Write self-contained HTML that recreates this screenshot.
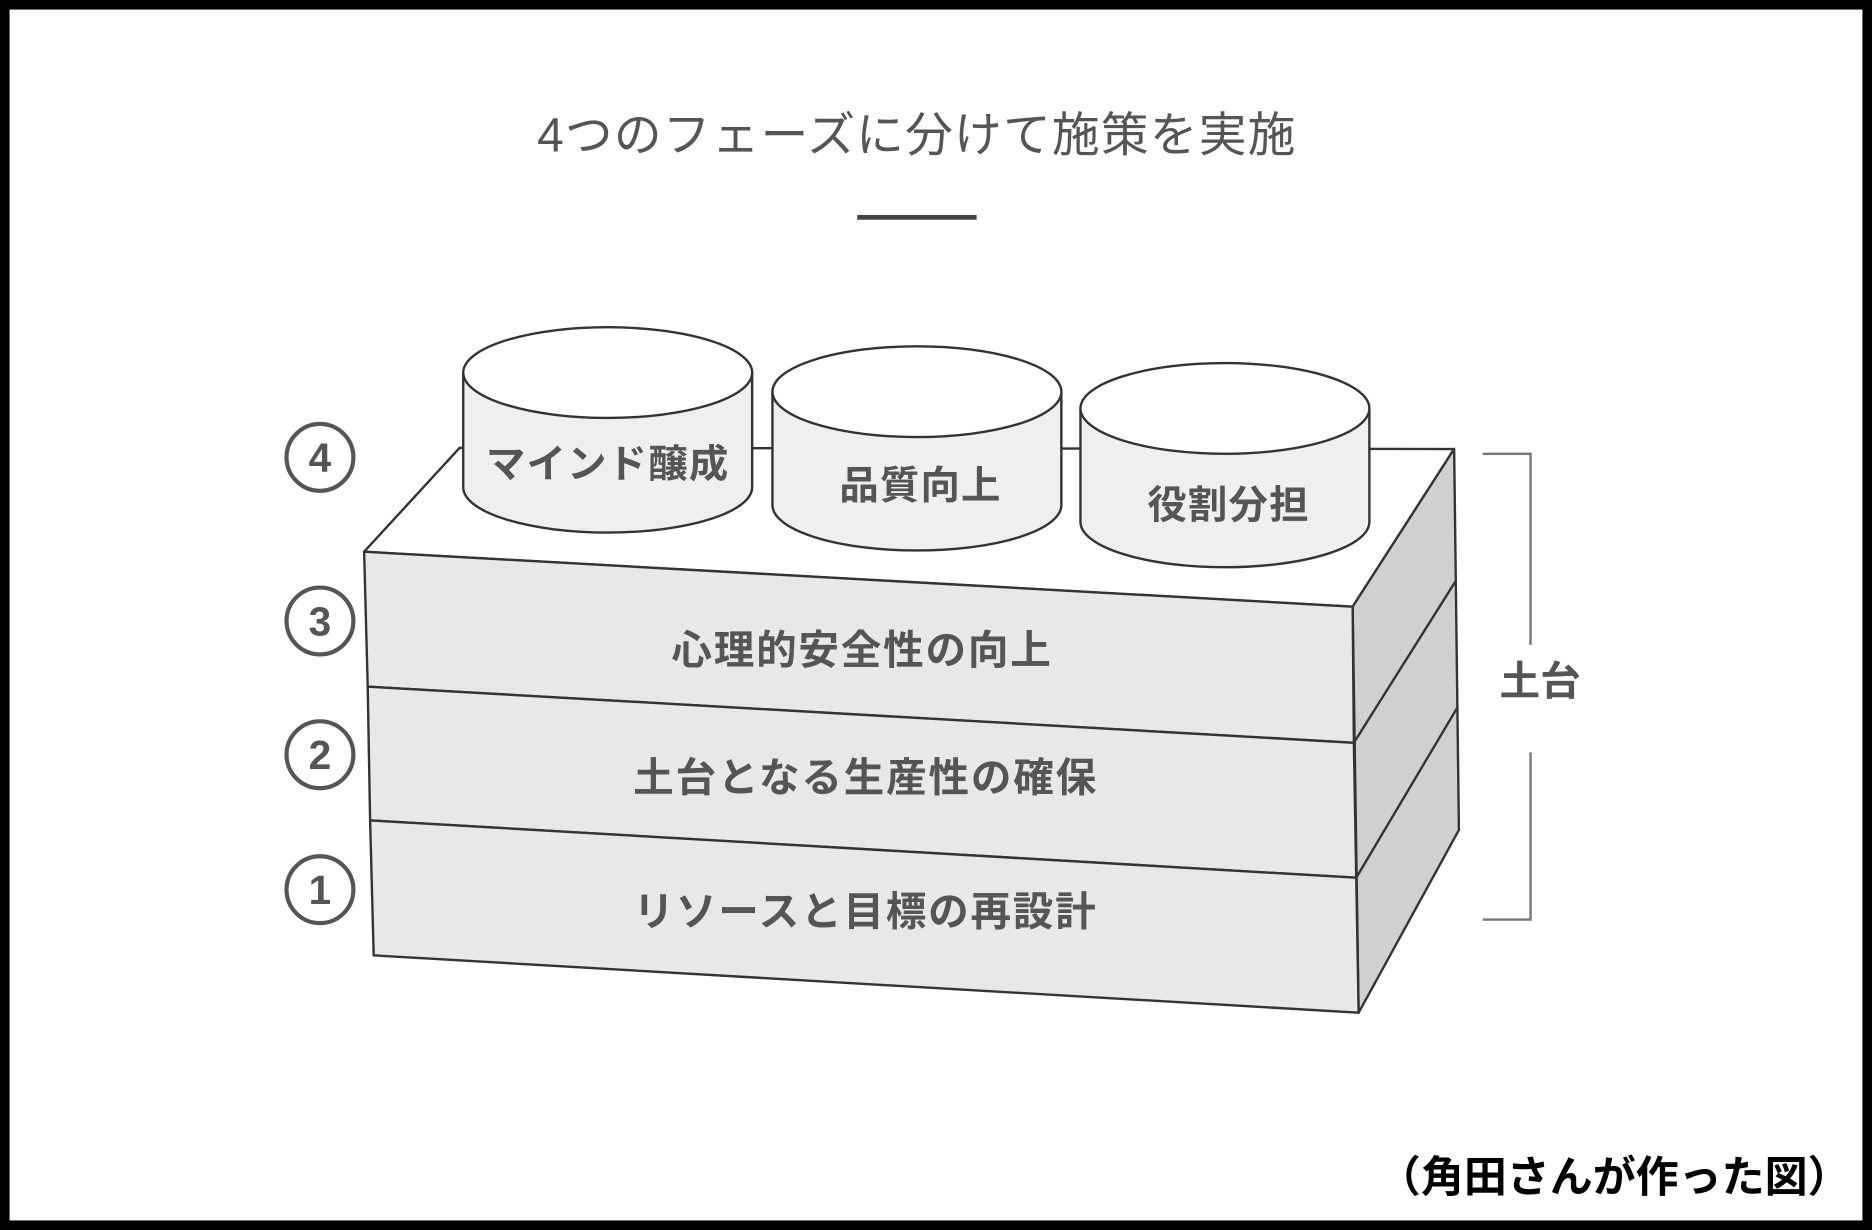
<!DOCTYPE html>
<html><head><meta charset="utf-8"><style>html,body{margin:0;padding:0;background:#fff}svg{display:block}</style></head>
<body>
<svg width="1872" height="1230" viewBox="0 0 1568 1030" preserveAspectRatio="none" xmlns="http://www.w3.org/2000/svg" font-family="'Liberation Sans','Noto Sans CJK JP',sans-serif">
<rect x="4" y="4" width="1560" height="1022" fill="#fff" stroke="#000" stroke-width="8"/>
<text x="768" y="127" text-anchor="middle" font-size="40" fill="#555" letter-spacing="1">4つのフェーズに分けて施策を実施</text>
<rect x="718" y="180" width="100" height="4" fill="#444"/>
<g stroke="#333" stroke-width="2" stroke-linejoin="round">
<polygon points="385,375 1218,376 1133,508 305,462" fill="#fff"/>
<polygon points="1133,508 1218,376 1222,695 1138,848" fill="#d0d0d0"/>
<polygon points="305,462 1133,508 1134,622 308,575" fill="#e8e8e8"/>
<polygon points="308,575 1134,622 1136,735 310,687" fill="#e8e8e8"/>
<polygon points="310,687 1136,735 1138,848 313,800" fill="#e8e8e8"/>
<line x1="1134" y1="622" x2="1219" y2="487"/>
<line x1="1136" y1="735" x2="1221" y2="592"/>
<g fill="#efefef">
<path d="M388,312 L388,408 A121,38 0 0 0 630,408 L630,312 Z"/>
<ellipse cx="509" cy="312" rx="121" ry="38" fill="#fff"/>
<path d="M647,328 L647,423 A121,38 0 0 0 889,423 L889,328 Z"/>
<ellipse cx="768" cy="328" rx="121" ry="38" fill="#fff"/>
<path d="M905,342 L905,437 A121,38 0 0 0 1147,437 L1147,342 Z"/>
<ellipse cx="1026" cy="342" rx="121" ry="38" fill="#fff"/>
</g>
</g>
<g font-size="33" font-weight="bold" fill="#555" text-anchor="middle" letter-spacing="1">
<text x="509" y="400">マインド醸成</text>
<text x="771" y="418">品質向上</text>
<text x="1029" y="434">役割分担</text>
</g>
<g font-size="34" font-weight="bold" fill="#555" text-anchor="middle" letter-spacing="1.5">
<text x="722" y="556">心理的安全性の向上</text>
<text x="725" y="663">土台となる生産性の確保</text>
<text x="725" y="775">リソースと目標の再設計</text>
</g>
<g fill="#fff" stroke="#555" stroke-width="3.5">
<circle cx="268" cy="383" r="28"/><circle cx="268" cy="520" r="28"/><circle cx="268" cy="632" r="28"/><circle cx="268" cy="745" r="28"/>
</g>
<g font-size="34" font-weight="bold" fill="#555" text-anchor="middle">
<text x="268" y="395">4</text><text x="268" y="532">3</text><text x="268" y="644">2</text><text x="268" y="757">1</text>
</g>
<polyline points="1242,380 1282,380 1282,540" fill="none" stroke="#777" stroke-width="2"/>
<polyline points="1282,630 1282,770 1242,770" fill="none" stroke="#777" stroke-width="2"/>
<text x="1290" y="582" text-anchor="middle" font-size="34" font-weight="bold" fill="#555">土台</text>
<text x="1550" y="998" text-anchor="end" font-size="36" font-weight="bold" fill="#000">（角田さんが作った図）</text>
</svg>
</body></html>
